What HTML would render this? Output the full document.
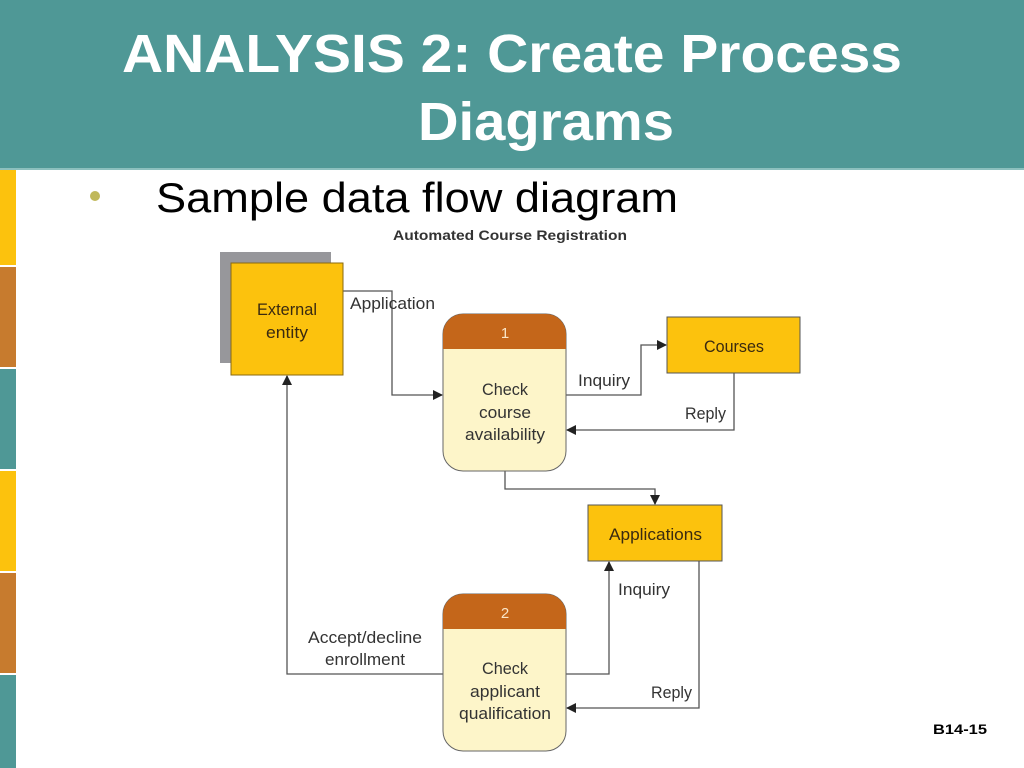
<!DOCTYPE html>
<html><head><meta charset="utf-8"><style>
html,body{margin:0;padding:0;width:1024px;height:768px;overflow:hidden;background:#fff}
svg{display:block}
svg text{font-family:"Liberation Sans",Arial,sans-serif}
</style></head><body>
<svg width="1024" height="768" viewBox="0 0 1024 768" xmlns="http://www.w3.org/2000/svg">
<defs>
<marker id="a" markerWidth="10" markerHeight="10" refX="9" refY="5" orient="auto" markerUnits="userSpaceOnUse">
<path d="M0,0 L10,5 L0,10 z" fill="#222"/></marker>
</defs>
<rect x="0" y="0" width="1024" height="168" fill="#4f9896"/>
<rect x="0" y="168" width="1024" height="2" fill="#8cc0be"/>
<rect x="0" y="170" width="16" height="95" fill="#fcc20d"/>
<rect x="0" y="267" width="16" height="100" fill="#c77b2e"/>
<rect x="0" y="369" width="16" height="100" fill="#4f9896"/>
<rect x="0" y="471" width="16" height="100" fill="#fcc20d"/>
<rect x="0" y="573" width="16" height="100" fill="#c77b2e"/>
<rect x="0" y="675" width="16" height="93" fill="#4f9896"/>
<text x="122" y="72" font-size="54" font-weight="bold" fill="#fff" textLength="780" lengthAdjust="spacingAndGlyphs">ANALYSIS 2: Create Process</text>
<text x="418" y="140" font-size="54" font-weight="bold" fill="#fff" textLength="256" lengthAdjust="spacingAndGlyphs">Diagrams</text>
<circle cx="95" cy="196" r="5" fill="#c0b85a"/>
<text x="156" y="212" font-size="42" fill="#000" textLength="522" lengthAdjust="spacingAndGlyphs">Sample data flow diagram</text>
<text x="393" y="240" font-size="14" font-weight="bold" fill="#333" textLength="234" lengthAdjust="spacingAndGlyphs">Automated Course Registration</text>

<g stroke="#555" stroke-width="1.3" fill="none">
<polyline points="343,291 392,291 392,395 442,395" marker-end="url(#a)"/>
<polyline points="566,395 641,395 641,345 666,345" marker-end="url(#a)"/>
<polyline points="734,373 734,430 567,430" marker-end="url(#a)"/>
<polyline points="505,471 505,489 655,489 655,504" marker-end="url(#a)"/>
<polyline points="566,674 609,674 609,562" marker-end="url(#a)"/>
<polyline points="699,561 699,708 567,708" marker-end="url(#a)"/>
<polyline points="443,674 287,674 287,376" marker-end="url(#a)"/>
</g>

<g font-size="17" fill="#333">
<rect x="220" y="252" width="111" height="111" fill="#97979b"/>
<rect x="231" y="263" width="112" height="112" fill="#fcc20d" stroke="#8a6a10" stroke-width="1"/>
<text x="257" y="315" textLength="60" lengthAdjust="spacingAndGlyphs" fill="#3a2a10">External</text>
<text x="266" y="338" textLength="42" lengthAdjust="spacingAndGlyphs" fill="#3a2a10">entity</text>
<text x="350" y="309" textLength="85" lengthAdjust="spacingAndGlyphs">Application</text>

<rect x="443" y="314" width="123" height="157" rx="20" fill="#fdf5c9" stroke="#666" stroke-width="1"/>
<path d="M443,349 V334 A20,20 0 0 1 463,314 H546 A20,20 0 0 1 566,334 V349 Z" fill="#c4661a"/>
<text x="505" y="338" font-size="15" fill="#fbe6c8" text-anchor="middle">1</text>
<text x="482" y="395" textLength="46" lengthAdjust="spacingAndGlyphs">Check</text>
<text x="479" y="418" textLength="52" lengthAdjust="spacingAndGlyphs">course</text>
<text x="465" y="440" textLength="80" lengthAdjust="spacingAndGlyphs">availability</text>

<rect x="667" y="317" width="133" height="56" fill="#fcc20d" stroke="#555" stroke-width="1"/>
<text x="704" y="352" textLength="60" lengthAdjust="spacingAndGlyphs" fill="#3a2a10">Courses</text>
<text x="578" y="386" textLength="52" lengthAdjust="spacingAndGlyphs">Inquiry</text>
<text x="685" y="419" textLength="41" lengthAdjust="spacingAndGlyphs">Reply</text>

<rect x="588" y="505" width="134" height="56" fill="#fcc20d" stroke="#555" stroke-width="1"/>
<text x="609" y="540" textLength="93" lengthAdjust="spacingAndGlyphs" fill="#3a2a10">Applications</text>
<text x="618" y="595" textLength="52" lengthAdjust="spacingAndGlyphs">Inquiry</text>
<text x="651" y="698" textLength="41" lengthAdjust="spacingAndGlyphs">Reply</text>
<text x="308" y="643" textLength="114" lengthAdjust="spacingAndGlyphs">Accept/decline</text>
<text x="325" y="665" textLength="80" lengthAdjust="spacingAndGlyphs">enrollment</text>

<rect x="443" y="594" width="123" height="157" rx="20" fill="#fdf5c9" stroke="#666" stroke-width="1"/>
<path d="M443,629 V614 A20,20 0 0 1 463,594 H546 A20,20 0 0 1 566,614 V629 Z" fill="#c4661a"/>
<text x="505" y="618" font-size="15" fill="#fbe6c8" text-anchor="middle">2</text>
<text x="482" y="674" textLength="46" lengthAdjust="spacingAndGlyphs">Check</text>
<text x="470" y="697" textLength="70" lengthAdjust="spacingAndGlyphs">applicant</text>
<text x="459" y="719" textLength="92" lengthAdjust="spacingAndGlyphs">qualification</text>
</g>

<text x="933" y="734" font-size="14" font-weight="bold" fill="#000" textLength="54" lengthAdjust="spacingAndGlyphs">B14-15</text>
</svg>
</body></html>
